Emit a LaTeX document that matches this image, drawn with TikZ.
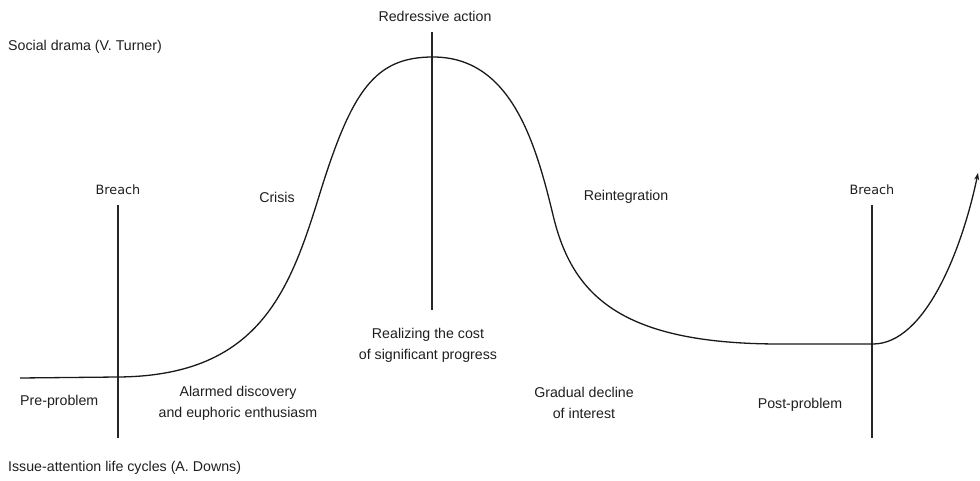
\documentclass[tikz,border=0pt]{standalone}
\usepackage{fontspec}
\setmainfont{Liberation Sans}
\newfontfamily\breachfont{DejaVu Sans}
\usetikzlibrary{arrows.meta}
\begin{document}
\begin{tikzpicture}[x=1pt,y=-1pt,
  lbl/.style={inner sep=0pt,font=\fontsize{14.2}{21}\selectfont,text=black!88},
  twoline/.style={lbl,align=center},
  breachlbl/.style={inner sep=0pt,font=\breachfont\fontsize{12.8}{15}\selectfont,text=black!88},
  marker/.style={line width=1.6pt,draw=black!85},
  curve/.style={line width=1.3pt,draw=black!90}]
\useasboundingbox (0,0) rectangle (980,481);

% stage markers
\coordinate (b1top) at (118,205); \coordinate (b1bot) at (118,438);
\coordinate (ratop) at (432,32);  \coordinate (rabot) at (432,310);
\coordinate (b2top) at (872,205); \coordinate (b2bot) at (872,438);
\draw[marker] (b1top) -- (b1bot);
\draw[marker] (ratop) -- (rabot);
\draw[marker] (b2top) -- (b2bot);

% attention curve
\coordinate (start) at (20,378);
\coordinate (breach1) at (118,377);
\coordinate (rise) at (320,193);
\coordinate (peak) at (433,57);
\coordinate (fall) at (553,215);
\coordinate (plateau) at (780,344);
\coordinate (breach2) at (873,344);
\coordinate (tip) at (978,173);
\draw[curve,-{Stealth[length=7pt,width=5pt]}]
  (start) -- (breach1)
  .. controls (260,376) and (290,290) .. (rise)
  .. controls (352,90) and (375,57) .. (peak)
  .. controls (510,57) and (535,140) .. (fall)
  .. controls (572,295) and (620,344) .. (plateau)
  -- (breach2)
  .. controls (925,344) and (962,250) .. (tip);

% Turner labels
\node[lbl,anchor=west] (turner) at (8,47) {Social drama (V. Turner)};
\node[lbl] (redress) at (435,16) {Redressive action};
\node[breachlbl] (breachA) at (118,190) {Breach};
\node[breachlbl] (breachB) at (872,190) {Breach};
\node[lbl] (crisis) at (277,197) {Crisis};
\node[lbl] (reint) at (626,197) {Reintegration};

% Downs labels
\node[twoline] (realize) at (428,345) {Realizing the cost\\of significant progress};
\node[lbl,anchor=west] (pre) at (20,402) {Pre-problem};
\node[twoline] (alarm) at (238,403) {Alarmed discovery\\and euphoric enthusiasm};
\node[twoline] (decline) at (584,402.5) {Gradual decline\\of interest};
\node[lbl] (post) at (800,405) {Post-problem};
\node[lbl,anchor=west] (downs) at (8,468) {Issue-attention life cycles (A. Downs)};
\end{tikzpicture}
\end{document}
